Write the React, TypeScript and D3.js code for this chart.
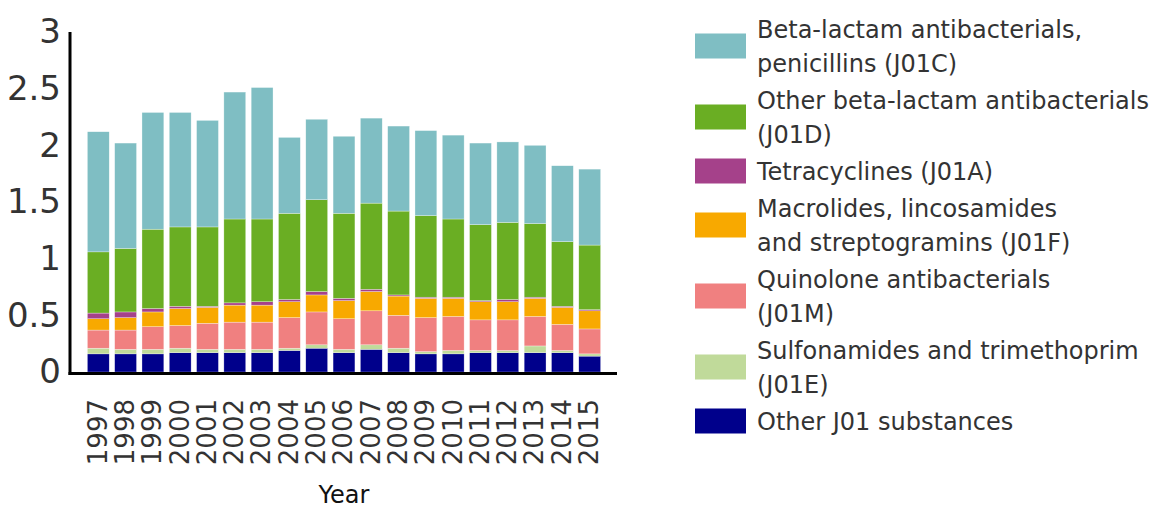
import React, { useEffect, useRef } from 'react';
import * as d3 from 'd3';

const years = ['1997', '1998', '1999', '2000', '2001', '2002', '2003', '2004', '2005', '2006',
  '2007', '2008', '2009', '2010', '2011', '2012', '2013', '2014', '2015'];

// stacked bottom to top
const otherJ01 = [0.16, 0.16, 0.16, 0.17, 0.17, 0.17, 0.17, 0.19, 0.21, 0.17, 0.20, 0.17, 0.16, 0.16, 0.17, 0.17, 0.17, 0.17, 0.14];
const sulfonamides = [0.05, 0.04, 0.04, 0.04, 0.03, 0.03, 0.03, 0.02, 0.03, 0.03, 0.04, 0.04, 0.02, 0.03, 0.02, 0.02, 0.06, 0.02, 0.02];
const quinolones = [0.16, 0.17, 0.20, 0.20, 0.23, 0.24, 0.24, 0.27, 0.29, 0.27, 0.30, 0.29, 0.30, 0.30, 0.27, 0.27, 0.26, 0.23, 0.22];
const macrolides = [0.10, 0.11, 0.13, 0.15, 0.14, 0.15, 0.15, 0.14, 0.15, 0.16, 0.17, 0.17, 0.17, 0.16, 0.16, 0.16, 0.16, 0.15, 0.16];
const tetracyclines = [0.05, 0.05, 0.03, 0.02, 0.01, 0.02, 0.03, 0.02, 0.03, 0.02, 0.02, 0.01, 0.01, 0.01, 0.01, 0.02, 0.01, 0.01, 0.01];
const otherBetaLactam = [0.54, 0.56, 0.70, 0.70, 0.70, 0.74, 0.73, 0.76, 0.81, 0.75, 0.76, 0.74, 0.72, 0.69, 0.67, 0.68, 0.65, 0.57, 0.57];
const penicillins = [1.06, 0.93, 1.03, 1.01, 0.94, 1.12, 1.16, 0.67, 0.71, 0.68, 0.75, 0.75, 0.75, 0.74, 0.72, 0.71, 0.69, 0.67, 0.67];

const yTicks = [0, 0.5, 1, 1.5, 2, 2.5, 3];

const seriesKeys = ['otherJ01', 'sulfonamides', 'quinolones', 'macrolides', 'tetracyclines', 'otherBetaLactam', 'penicillins'];
const seriesValues = [otherJ01, sulfonamides, quinolones, macrolides, tetracyclines, otherBetaLactam, penicillins];
const seriesColors = ['#00008B', '#C0DA9A', '#F08080', '#F8A900', '#A5418A', '#6AAE23', '#7FBEC3'];

// legend order (top to bottom), each entry split into lines
const legendKeys = ['penicillins', 'otherBetaLactam', 'tetracyclines', 'macrolides', 'quinolones', 'sulfonamides', 'otherJ01'];
const legendLabels = [
  ['Beta-lactam antibacterials,', 'penicillins (J01C)'],
  ['Other beta-lactam antibacterials', '(J01D)'],
  ['Tetracyclines (J01A)'],
  ['Macrolides, lincosamides', 'and streptogramins (J01F)'],
  ['Quinolone antibacterials', '(J01M)'],
  ['Sulfonamides and trimethoprim', '(J01E)'],
  ['Other J01 substances'],
];

const FONT = "'DejaVu Sans', Verdana, sans-serif";
const TEXT = '#333333';

export default function App() {
  const ref = useRef<SVGSVGElement>(null);

  useEffect(() => {
    const width = 1154;
    const height = 508;

    const svg = d3.select(ref.current);
    svg.selectAll('*').remove();
    svg.attr('width', width).attr('height', height);

    const table = years.map((yr, i) => {
      const row: any = { year: yr };
      seriesKeys.forEach((k, j) => { row[k] = seriesValues[j][i]; });
      return row;
    });

    const color = d3.scaleOrdinal<string, string>().domain(seriesKeys).range(seriesColors);

    const x = d3.scaleBand().domain(years).range([71, 617]).paddingInner(0.2).paddingOuter(0.6);
    const y = d3.scaleLinear().domain([0, 3]).range([372, 32]);

    const stacked = d3.stack().keys(seriesKeys)(table);

    // bars
    svg.append('g')
      .selectAll('g')
      .data(stacked)
      .join('g')
        .attr('fill', d => color(d.key))
      .selectAll('rect')
      .data(d => d)
      .join('rect')
        .attr('x', d => x((d.data as any).year)!)
        .attr('y', d => y(d[1]))
        .attr('width', x.bandwidth())
        .attr('height', d => y(d[0]) - y(d[1]))
        .attr('stroke', '#ffffff')
        .attr('stroke-width', 0.5)
        .attr('stroke-opacity', 0.6);

    // axis lines
    const [x0, x1] = x.range();
    svg.append('line')
      .attr('x1', x0 - 1).attr('x2', x0 - 1)
      .attr('y1', y(3)).attr('y2', y(0) + 3)
      .attr('stroke', '#000').attr('stroke-width', 3);
    svg.append('line')
      .attr('x1', x0 - 2.5).attr('x2', x1)
      .attr('y1', y(0) + 1.5).attr('y2', y(0) + 1.5)
      .attr('stroke', '#000').attr('stroke-width', 3);

    // y labels
    svg.append('g')
      .selectAll('text')
      .data(yTicks)
      .join('text')
        .attr('x', 61)
        .attr('y', d => y(d) - 1)
        .attr('dy', '0.36em')
        .attr('text-anchor', 'end')
        .attr('font-family', FONT)
        .attr('font-size', 34)
        .attr('fill', TEXT)
        .text(d => String(d));

    // x labels
    svg.append('g')
      .selectAll('text')
      .data(years)
      .join('text')
        .attr('transform', d => `translate(${x(d)! + x.bandwidth() / 2 - 1},399) rotate(-90)`)
        .attr('dy', '0.36em')
        .attr('text-anchor', 'end')
        .attr('font-family', FONT)
        .attr('font-size', 26)
        .attr('fill', TEXT)
        .text(d => d);

    svg.append('text')
      .attr('x', (x0 + x1) / 2)
      .attr('y', 503)
      .attr('text-anchor', 'middle')
      .attr('font-family', FONT)
      .attr('font-size', 24)
      .attr('fill', '#111')
      .text('Year');

    // legend
    const lineH = 34;
    const gap = 3;
    let top = 12;
    const legend = svg.append('g');
    legendKeys.forEach((k, i) => {
      const lines = legendLabels[i];
      const blockH = lines.length * lineH;
      const mid = top + blockH / 2;
      legend.append('rect')
        .attr('x', 695)
        .attr('y', mid - 12.5)
        .attr('width', 51)
        .attr('height', 25)
        .attr('fill', color(k));
      legend.append('text')
        .attr('font-family', FONT)
        .attr('font-size', 24)
        .attr('fill', TEXT)
        .selectAll('tspan')
        .data(lines)
        .join('tspan')
          .attr('x', 757)
          .attr('y', (d, j) => top + j * lineH + 25.5)
          .text(d => d);
      top += blockH + gap;
    });
  }, []);

  return (
    <div style={{ position: 'absolute', left: 0, top: 0 }}>
      <svg ref={ref}></svg>
    </div>
  );
}
